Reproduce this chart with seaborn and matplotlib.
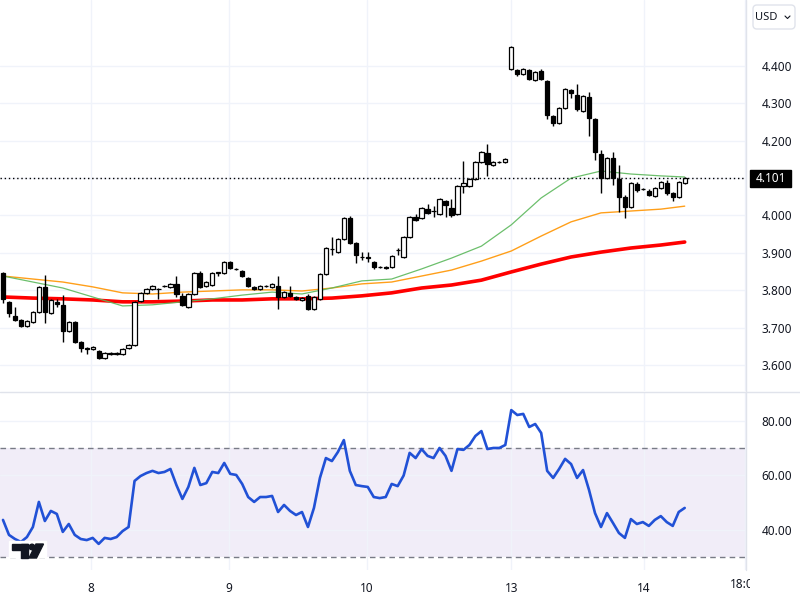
import numpy as np
import pandas as pd
import matplotlib
matplotlib.use('Agg')
import matplotlib.pyplot as plt
import seaborn as sns
from matplotlib.patches import Rectangle, FancyBboxPatch, Polygon, Circle

# hourly candles (open, high, low, close)
opens = [3.846, 3.769, 3.731, 3.720, 3.704, 3.715, 3.742, 3.809, 3.739, 3.769,
         3.761, 3.691, 3.715, 3.662, 3.645, 3.643, 3.637, 3.619, 3.632, 3.632,
         3.629, 3.645, 3.654, 3.771, 3.793, 3.803, 3.803, 3.811, 3.809, 3.817,
         3.785, 3.755, 3.790, 3.846, 3.811, 3.814, 3.846, 3.846, 3.876, 3.857,
         3.852, 3.833, 3.809, 3.803, 3.811, 3.809, 3.811, 3.782, 3.793, 3.782,
         3.774, 3.785, 3.750, 3.777, 3.843, 3.910, 3.902, 3.937, 3.993, 3.926,
         3.890, 3.889, 3.876, 3.862, 3.862, 3.862, 3.907, 3.889, 3.942, 3.996,
         3.993, 4.017, 4.013, 4.004, 4.039, 4.020, 4.004, 4.079, 4.079, 4.098,
         4.143, 4.167, 4.135, 4.143, 4.143, 4.392, 4.389, 4.379, 4.389, 4.363,
         4.387, 4.360, 4.266, 4.247, 4.288, 4.336, 4.322, 4.280, 4.317, 4.258,
         4.165, 4.100, 4.154, 4.098, 4.049, 4.023, 4.084, 4.071, 4.066, 4.052,
         4.074, 4.087, 4.060, 4.049, 4.087]
highs = [3.850, 3.772, 3.755, 3.722, 3.720, 3.745, 3.812, 3.841, 3.777, 3.777,
         3.787, 3.718, 3.718, 3.665, 3.648, 3.650, 3.640, 3.635, 3.634, 3.634,
         3.645, 3.657, 3.772, 3.795, 3.806, 3.814, 3.806, 3.814, 3.820, 3.838,
         3.793, 3.793, 3.849, 3.852, 3.825, 3.849, 3.849, 3.879, 3.879, 3.860,
         3.855, 3.836, 3.811, 3.813, 3.813, 3.819, 3.838, 3.797, 3.811, 3.785,
         3.782, 3.790, 3.785, 3.846, 3.916, 3.942, 3.940, 3.996, 3.998, 3.929,
         3.902, 3.902, 3.879, 3.865, 3.864, 3.894, 3.913, 3.945, 3.998, 4.004,
         4.023, 4.031, 4.025, 4.047, 4.041, 4.044, 4.082, 4.146, 4.100, 4.146,
         4.173, 4.191, 4.146, 4.146, 4.154, 4.454, 4.392, 4.394, 4.392, 4.387,
         4.392, 4.363, 4.269, 4.290, 4.341, 4.339, 4.352, 4.322, 4.330, 4.261,
         4.175, 4.157, 4.170, 4.135, 4.055, 4.090, 4.090, 4.073, 4.071, 4.077,
         4.093, 4.095, 4.062, 4.093, 4.103]
lows = [3.766, 3.728, 3.718, 3.702, 3.702, 3.713, 3.740, 3.712, 3.737, 3.755,
        3.662, 3.689, 3.660, 3.635, 3.629, 3.641, 3.615, 3.617, 3.628, 3.627,
        3.627, 3.643, 3.652, 3.769, 3.790, 3.801, 3.777, 3.809, 3.806, 3.782,
        3.758, 3.752, 3.787, 3.806, 3.809, 3.812, 3.838, 3.843, 3.857, 3.853,
        3.835, 3.808, 3.800, 3.801, 3.809, 3.807, 3.750, 3.780, 3.782, 3.774,
        3.772, 3.748, 3.747, 3.774, 3.841, 3.894, 3.900, 3.935, 3.923, 3.873,
        3.881, 3.876, 3.858, 3.860, 3.858, 3.860, 3.894, 3.886, 3.940, 3.985,
        3.990, 4.004, 3.996, 4.001, 3.996, 3.996, 4.001, 4.060, 4.077, 4.095,
        4.140, 4.106, 4.133, 4.141, 4.141, 4.390, 4.373, 4.377, 4.363, 4.360,
        4.363, 4.258, 4.239, 4.245, 4.285, 4.314, 4.280, 4.278, 4.213, 4.148,
        4.060, 4.098, 4.082, 4.009, 3.993, 4.020, 4.063, 4.069, 4.052, 4.050,
        4.072, 4.055, 4.039, 4.047, 4.085]
closes = [3.777, 3.739, 3.720, 3.704, 3.718, 3.742, 3.809, 3.742, 3.774, 3.763,
          3.691, 3.715, 3.662, 3.645, 3.643, 3.648, 3.619, 3.632, 3.630, 3.629,
          3.643, 3.654, 3.769, 3.793, 3.803, 3.811, 3.804, 3.812, 3.817, 3.790,
          3.761, 3.790, 3.846, 3.809, 3.822, 3.846, 3.848, 3.876, 3.860, 3.856,
          3.838, 3.811, 3.803, 3.811, 3.812, 3.817, 3.782, 3.795, 3.785, 3.777,
          3.779, 3.750, 3.782, 3.843, 3.913, 3.911, 3.937, 3.993, 3.926, 3.894,
          3.888, 3.887, 3.862, 3.862, 3.860, 3.892, 3.908, 3.942, 3.996, 3.988,
          4.020, 4.007, 4.012, 4.044, 4.028, 4.001, 4.079, 4.087, 4.098, 4.143,
          4.170, 4.138, 4.143, 4.144, 4.151, 4.451, 4.379, 4.392, 4.365, 4.384,
          4.365, 4.269, 4.247, 4.288, 4.338, 4.328, 4.285, 4.320, 4.261, 4.170,
          4.100, 4.154, 4.100, 4.049, 4.023, 4.087, 4.068, 4.071, 4.055, 4.074,
          4.090, 4.060, 4.049, 4.090, 4.101]

# RSI, one value per candle
rsi = [43.7, 38.2, 36.7, 35.6, 37.4, 41.1, 50.3, 43.3, 47.0, 45.9,
       39.3, 42.2, 38.2, 36.7, 36.3, 37.1, 34.9, 37.1, 36.7, 37.4,
       39.6, 41.1, 58.0, 59.8, 60.9, 61.7, 60.9, 61.3, 62.4, 56.5,
       51.4, 55.8, 62.8, 56.5, 57.2, 61.3, 60.9, 64.6, 60.6, 60.2,
       56.9, 52.1, 50.3, 52.1, 52.1, 52.5, 46.6, 49.2, 47.0, 45.5,
       46.6, 41.1, 48.1, 59.1, 66.4, 65.3, 68.6, 73.0, 61.7, 56.5,
       56.1, 55.8, 52.1, 51.7, 52.1, 56.9, 56.1, 60.0, 68.3, 66.4,
       69.7, 67.2, 66.4, 70.1, 67.2, 61.7, 69.7, 69.4, 71.2, 74.5,
       76.3, 69.7, 70.1, 70.1, 71.2, 84.0, 82.2, 82.6, 77.8, 78.9,
       75.6, 61.7, 59.1, 62.4, 66.1, 64.2, 59.1, 62.0, 54.7, 46.2,
       41.1, 46.2, 42.6, 38.9, 37.1, 44.0, 42.2, 42.9, 41.5, 43.7,
       45.1, 42.9, 41.5, 46.6, 48.1]

# moving averages, read every 5 candles
ma_idx = [0, 5, 10, 15, 20, 25, 30, 35, 40, 45, 50, 55, 60, 65, 70, 75, 80,
          85, 90, 95, 100, 105, 110, 114]
ma_fast = [3.838, 3.822, 3.806, 3.782, 3.758, 3.761, 3.769, 3.777, 3.787, 3.795,
           3.790, 3.806, 3.825, 3.830, 3.857, 3.886, 3.918, 3.975, 4.047, 4.100,
           4.119, 4.111, 4.106, 4.103]
ma_mid = [3.838, 3.830, 3.822, 3.809, 3.793, 3.790, 3.795, 3.798, 3.801, 3.801,
          3.798, 3.806, 3.817, 3.822, 3.838, 3.854, 3.878, 3.905, 3.945, 3.983,
          4.007, 4.012, 4.017, 4.025]
ma_slow = [3.782, 3.779, 3.777, 3.774, 3.769, 3.769, 3.771, 3.774, 3.774, 3.777,
           3.777, 3.779, 3.785, 3.793, 3.806, 3.814, 3.827, 3.849, 3.870, 3.889,
           3.902, 3.913, 3.921, 3.929]

last_price = 4.101
price_ticks = [3.6, 3.7, 3.8, 3.9, 4.0, 4.1, 4.2, 4.3, 4.4]
rsi_ticks = [40, 60, 80]
day_pos = [14.7, 37.8, 60.9, 85.0, 107.2, 124.1]
day_labels = ['8', '9', '10', '13', '14', '']

df = pd.DataFrame({'o': opens, 'h': highs, 'l': lows, 'c': closes, 'rsi': rsi})
df['i'] = np.arange(len(df))
df['up'] = df['c'] >= df['o']

sns.set_theme(style='white')
plt.rcParams['font.family'] = ['Noto Sans', 'DejaVu Sans']
txt = '#131722'
grid_c = '#f0f3fa'

fig = plt.figure(figsize=(8, 6), dpi=100)
ax = fig.add_axes([0, 1 - 391 / 600, 746 / 800, 391 / 600])
ax2 = fig.add_axes([0, 1 - 570 / 600, 746 / 800, 178 / 600])

# both panes share the time axis
for a in (ax, ax2):
    a.set_xlim(-0.5, 124.25)
    for s in a.spines.values():
        s.set_visible(False)
    a.set_xticks(day_pos)
    a.grid(True, color=grid_c, lw=1)
    a.yaxis.tick_right()
    a.tick_params(length=0, labelsize=8.5, labelcolor=txt)
    a.tick_params(axis='y', pad=11)

# price pane
ax.set_ylim(3.5304, 4.5766)
ax.set_yticks(price_ticks)
ax.set_yticklabels(['' if abs(v - last_price) < 0.01 else f'{v:.3f}' for v in price_ticks])
ax.tick_params(axis='x', labelbottom=False)

sns.lineplot(x=ma_idx, y=ma_slow, ax=ax, color='#ff0000', lw=2.6, zorder=2)
sns.lineplot(x=ma_idx, y=ma_mid, ax=ax, color='#ff9f1a', lw=1, zorder=2)
sns.lineplot(x=ma_idx, y=ma_fast, ax=ax, color='#5cb85c', lw=0.9, alpha=0.9, zorder=2)

ax.vlines(df['i'], df['l'], df['h'], color='black', lw=1, zorder=3)
body = (df['c'] - df['o']).abs().clip(lower=0.0008)
ax.bar(df['i'], body, bottom=df[['o', 'c']].min(axis=1), width=0.72,
       color=np.where(df['up'], 'white', 'black'), edgecolor='black',
       linewidth=0.9, zorder=4)
ax.axhline(last_price, color='black', lw=1, ls=(0, (1, 2)), zorder=5)

# RSI pane
ax2.set_ylim(25.32, 90.64)
ax2.set_yticks(rsi_ticks)
ax2.set_yticklabels([f'{v:.2f}' for v in rsi_ticks])
ax2.set_xticklabels(day_labels)
ax2.tick_params(axis='x', pad=9)
ax2.axhspan(30, 70, color='#7e57c2', alpha=0.1, lw=0, zorder=0)
for lvl in (30, 70):
    ax2.axhline(lvl, color='#787b86', lw=1, ls=(0, (4, 3)), zorder=1)
sns.lineplot(data=df, x='i', y='rsi', ax=ax2, color='#2151d6', lw=1.9, zorder=3)
ax2.set_xlabel('')
ax2.set_ylabel('')
ax.set_xlabel('')
ax.set_ylabel('')

# overlay in pixel coordinates
ov = fig.add_axes([0, 0, 1, 1])
ov.set_xlim(0, 800)
ov.set_ylim(600, 0)
ov.axis('off')
ov.patch.set_alpha(0)
ov.plot([0, 800], [391.5, 391.5], color='#e0e3eb', lw=1)
ov.plot([746, 746], [0, 570], color='#e0e3eb', lw=1)

ov.add_patch(Rectangle((750, 170), 41, 17, color='black'))
ov.text(770.5, 178.5, '4.101', color='white', ha='center', va='center', fontsize=8.5)

ov.add_patch(FancyBboxPatch((753, 5), 42, 24, boxstyle='round,pad=0,rounding_size=4',
                            ec='#e0e3eb', fc='white', lw=1))
ov.text(766, 17, 'USD', color=txt, ha='center', va='center', fontsize=8)
ov.plot([785, 787.5, 790], [16, 18.5, 16], color=txt, lw=0.8)

# last time label is cut by the price scale
t = ov.text(745, 585, '18:00', color=txt, ha='center', va='center', fontsize=8.5,
            clip_on=True)
t.set_clip_path(Rectangle((0, 0), 750, 600, transform=ov.transData))

# logo
ov.add_patch(Rectangle((9, 541), 37, 16, color='white', zorder=5))
ov.add_patch(Rectangle((12, 544), 16, 5.5, color='#131722', zorder=6))
ov.add_patch(Rectangle((21, 544), 7, 14, color='#131722', zorder=6))
ov.add_patch(Circle((32, 547), 2.8, color='#131722', zorder=6))
ov.add_patch(Polygon([(36, 544), (43.5, 544), (36.5, 558), (29, 558)], color='#131722', zorder=6))

fig.savefig('out.png', dpi=100)
